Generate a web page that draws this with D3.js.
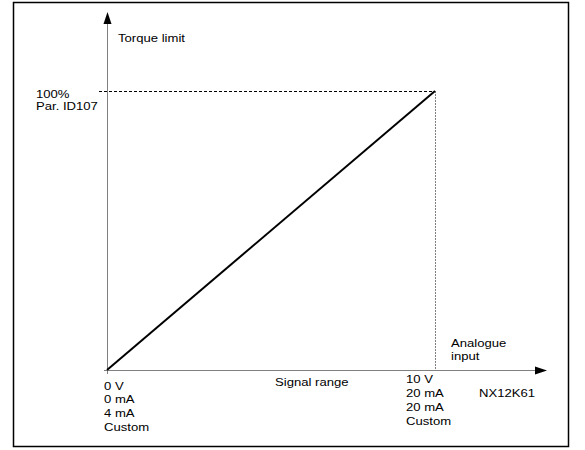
<!DOCTYPE html>
<html><head><meta charset="utf-8">
<script src="https://cdn.jsdelivr.net/npm/d3@7"></script>
<style>body{margin:0;background:#fff}svg{display:block}text{font-family:"Liberation Sans",Arial,sans-serif;font-size:11.6px;fill:#000}</style>
</head><body>
<script>
const signalPct = [0, 100];
const torquePct = [0, 100];
const yLabel = "Torque limit";
const xLabel = ["Analogue", "input"];
const maxLabel = ["100%", "Par. ID107"];
const minTickLabels = ["0 V", "0 mA", "4 mA", "Custom"];
const maxTickLabels = ["10 V", "20 mA", "20 mA", "Custom"];
const midLabel = "Signal range";
const codeLabel = "NX12K61";

const W = 585, H = 450;
const svg = d3.select("body").append("svg").attr("width", W).attr("height", H);
svg.append("rect").attr("x", 13.5).attr("y", 2.5).attr("width", 555).attr("height", 444)
  .attr("fill", "none").attr("stroke", "#000").attr("stroke-width", 1.5);

const x = d3.scaleLinear().domain([0, 100]).range([107, 435]);
const y = d3.scaleLinear().domain([0, 100]).range([370, 91]);

// axes
svg.append("line").attr("x1", x(0) + 0.5).attr("x2", x(0) + 0.5).attr("y1", y(0) + 4).attr("y2", 22)
  .attr("stroke", "#808080").attr("stroke-width", 1);
svg.append("path").attr("d", `M${x(0)+0.5},12 L${x(0)-3.5},24 L${x(0)+4.5},24 Z`).attr("fill", "#000");
svg.append("line").attr("x1", x(0) - 3).attr("x2", 536).attr("y1", y(0) + 0.5).attr("y2", y(0) + 0.5)
  .attr("stroke", "#808080").attr("stroke-width", 1);
svg.append("path").attr("d", `M547,${y(0)+0.5} L535,${y(0)-3.5} L535,${y(0)+4.5} Z`).attr("fill", "#000");

// guide lines
svg.append("line").attr("x1", 99).attr("x2", x(100)).attr("y1", y(100) + 0.5).attr("y2", y(100) + 0.5)
  .attr("stroke", "#000").attr("stroke-width", 1).attr("stroke-dasharray", "3,2");
svg.append("line").attr("x1", x(100) + 0.5).attr("x2", x(100) + 0.5).attr("y1", y(100)).attr("y2", y(0))
  .attr("stroke", "#808080").attr("stroke-width", 1).attr("stroke-dasharray", "2,1");

// data line
const pts = signalPct.map((s, i) => [x(s), y(torquePct[i])]);
svg.append("path").attr("d", d3.line()(pts)).attr("fill", "none").attr("stroke", "#000").attr("stroke-width", 2);

// labels (source text is slightly stretched horizontally)
function label(t, px, py) {
  svg.append("text").attr("transform", `translate(${px},${py}) scale(1.13,1)`).text(t);
}
label(yLabel, 118, 42);
maxLabel.forEach((t, i) => label(t, 36, 97.5 + i * 12));
minTickLabels.forEach((t, i) => label(t, 104, 389.5 + i * 13.8));
maxTickLabels.forEach((t, i) => label(t, 406, 383 + i * 14));
label(midLabel, 275, 386);
label(codeLabel, 479, 397);
xLabel.forEach((t, i) => label(t, 451, 347 + i * 12.5));
</script>
</body></html>
